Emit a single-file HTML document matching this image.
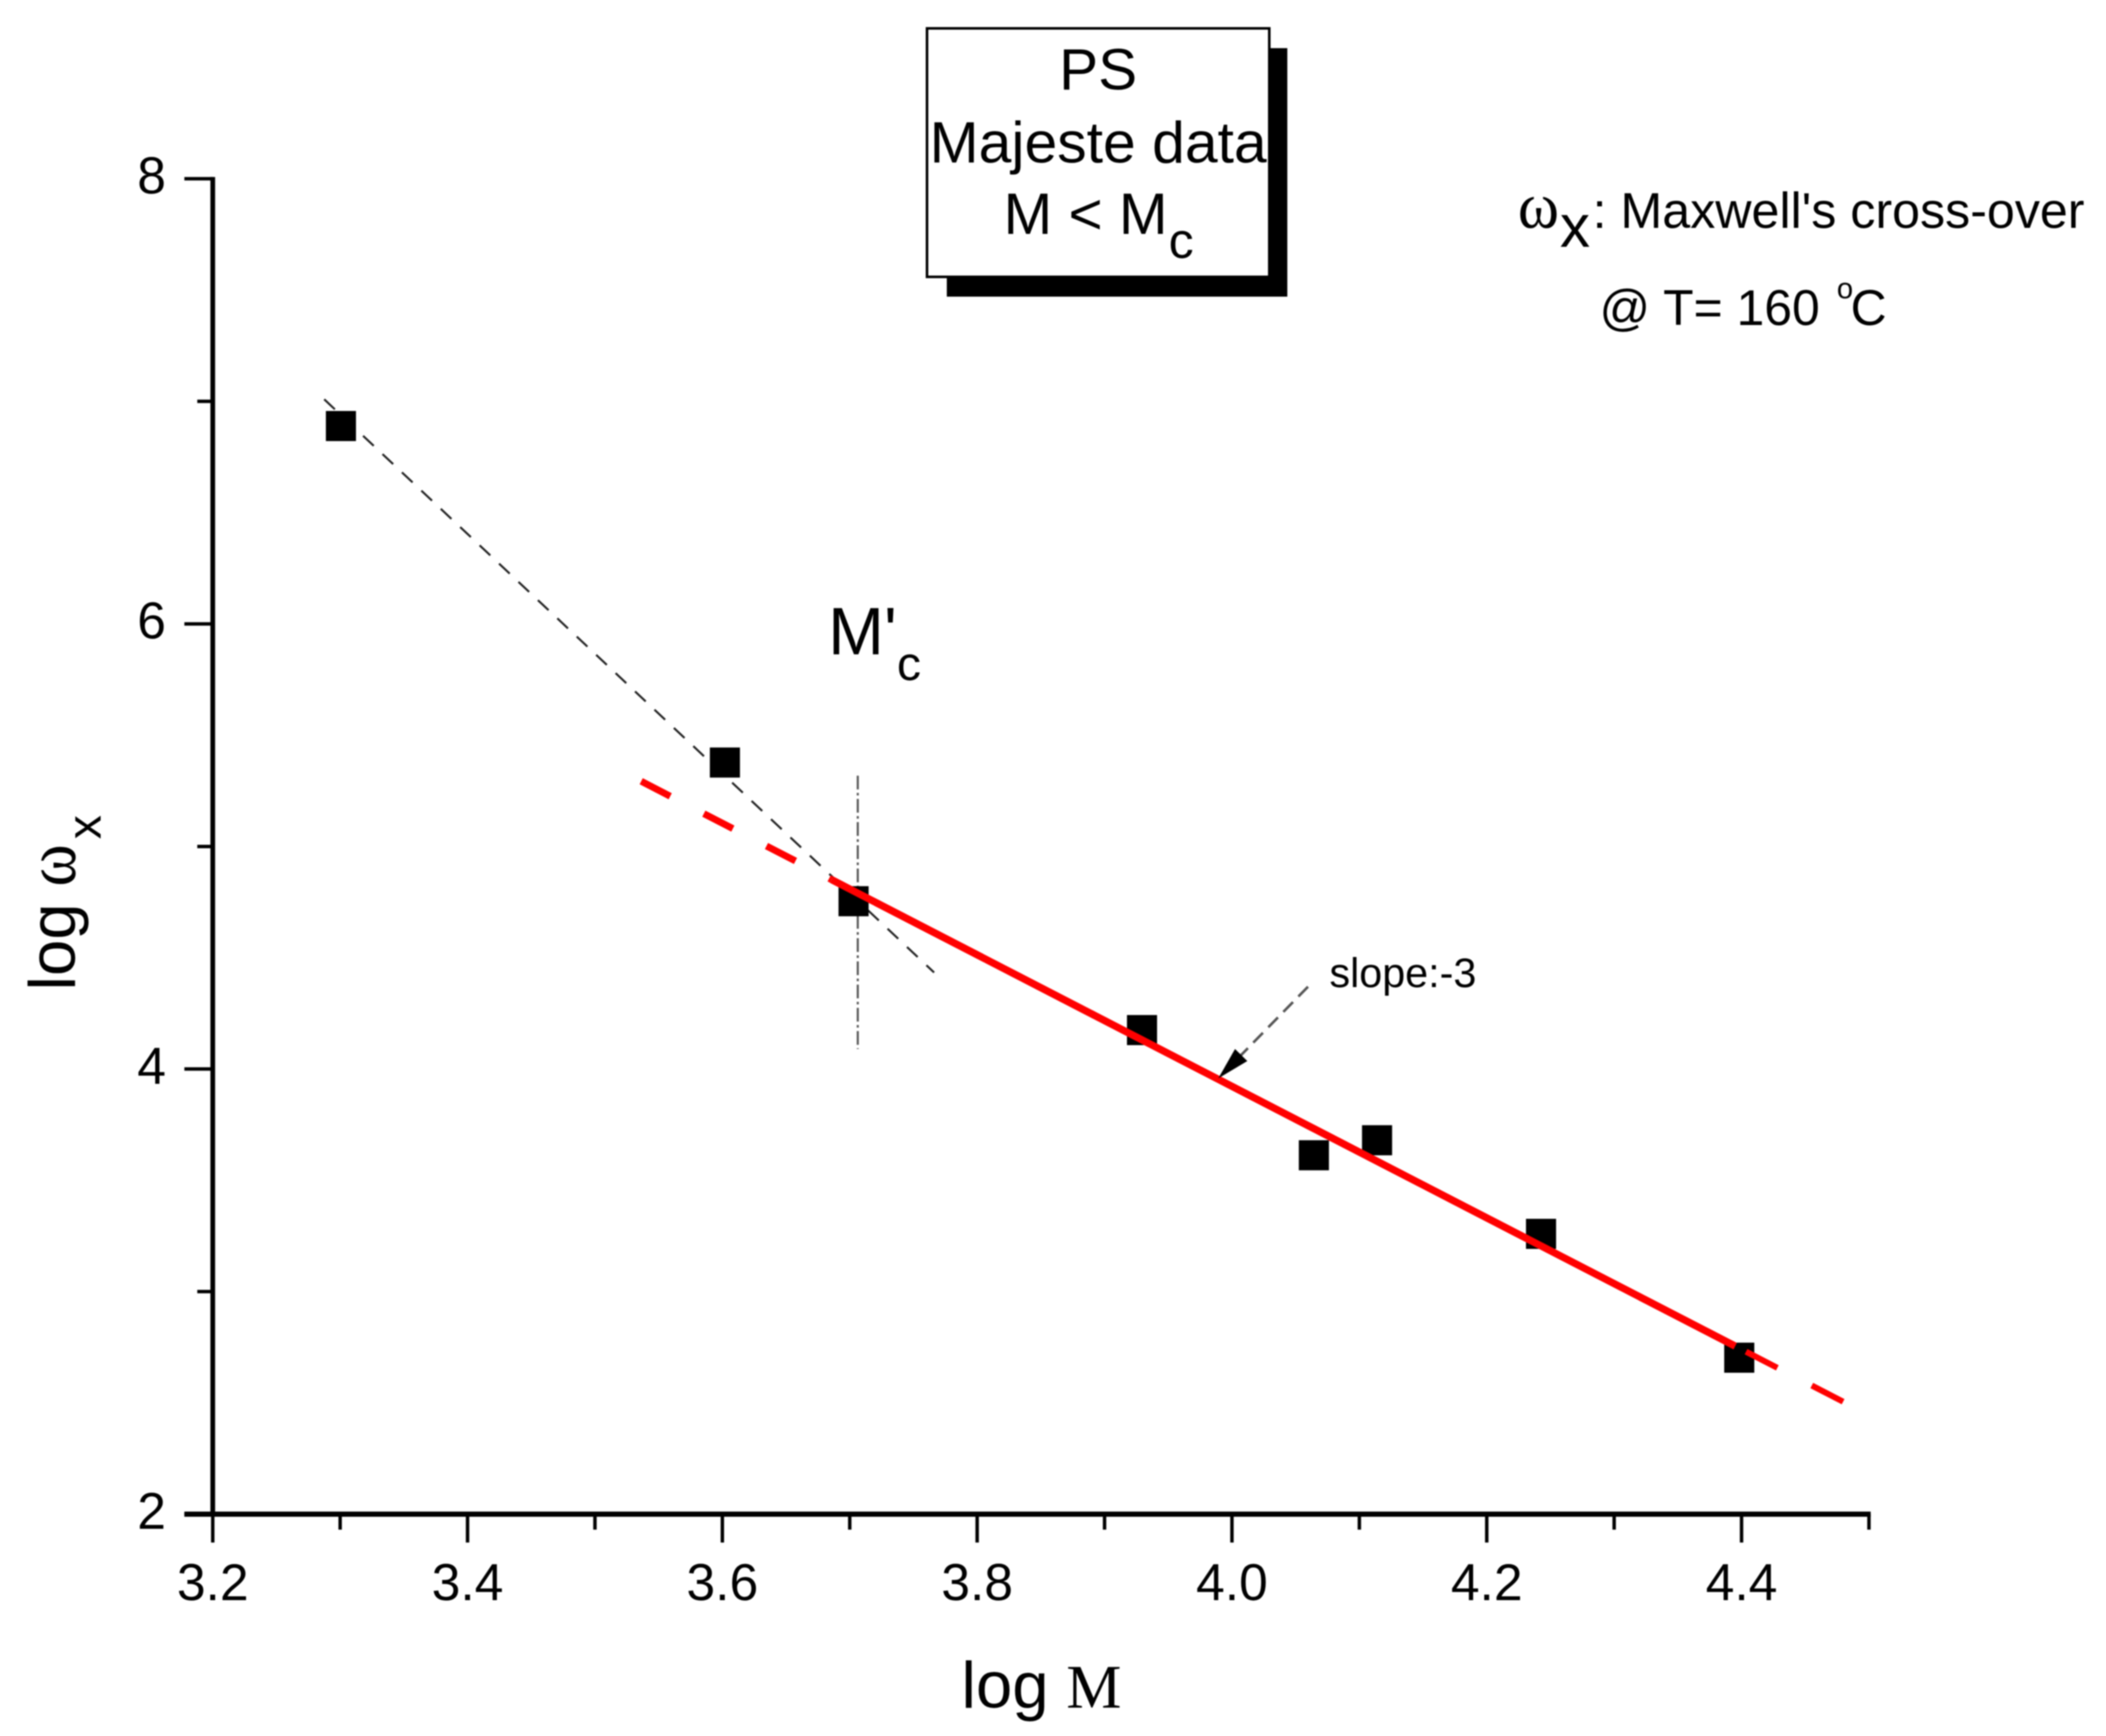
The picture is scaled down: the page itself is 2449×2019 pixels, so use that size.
<!DOCTYPE html>
<html>
<head>
<meta charset="utf-8">
<title>log omega x versus log M</title>
<style>
html,body{margin:0;padding:0;background:#fff;}
svg{display:block;filter:blur(0.7px);}
text{font-family:"Liberation Sans",sans-serif;fill:#000;}
.serif{font-family:"Liberation Serif",serif;}
</style>
</head>
<body>
<svg id="chart" xmlns="http://www.w3.org/2000/svg" width="2449" height="2019" viewBox="0 0 2449 2019">
  <rect x="0" y="0" width="2449" height="2019" fill="#fff"/>
  <g id="plot"></g>

  <g>
    <rect x="1101" y="56" width="396" height="289" fill="#000"/>
    <rect x="1078" y="33" width="398" height="289" fill="#fff" stroke="#000" stroke-width="3"/>
    <text x="1277" y="104" font-size="68" text-anchor="middle">PS</text>
    <text x="1081" y="189" font-size="68" textLength="392" lengthAdjust="spacingAndGlyphs">Majeste data</text>
    <text x="1167" y="272" font-size="68">M &lt; M</text>
    <text x="1359" y="300" font-size="58">c</text>
  </g>

  <g>
    <text class="serif" x="1765" y="265" font-size="76" textLength="48" lengthAdjust="spacingAndGlyphs">ω</text>
    <text x="1814" y="287" font-size="70">x</text>
    <text x="1852" y="265" font-size="58" textLength="572" lengthAdjust="spacingAndGlyphs">: Maxwell's cross-over</text>
    <text x="1860" y="378" font-size="58">@ T= 160</text>
    <text x="2136" y="347" font-size="34">o</text>
    <text x="2152" y="378" font-size="58">C</text>
  </g>

  <g>
    <text x="963" y="761" font-size="78">M'</text>
    <text x="1043" y="791" font-size="56">c</text>
  </g>

  <text x="1546" y="1148" font-size="48">slope:-3</text>

  <g>
    <text x="1118" y="1986" font-size="76">log</text>
    <text class="serif" x="1240" y="1986" font-size="72">M</text>
  </g>
  <g>
    <text transform="translate(87,1152) rotate(-90)" font-size="76">log</text>
    <text class="serif" transform="translate(87,1031) rotate(-90)" font-size="84" textLength="49" lengthAdjust="spacingAndGlyphs">ω</text>
    <text transform="translate(117,976) rotate(-90)" font-size="56">x</text>
  </g>
</svg>
<script>
const xMajorTicks = [3.2, 3.4, 3.6, 3.8, 4.0, 4.2, 4.4];
const xMinorTicks = [3.3, 3.5, 3.7, 3.9, 4.1, 4.3, 4.5];
const xTickLabels = ["3.2", "3.4", "3.6", "3.8", "4.0", "4.2", "4.4"];
const yMajorTicks = [2, 4, 6, 8];
const yMinorTicks = [3, 5, 7];
const yTickLabels = ["2", "4", "6", "8"];
const logM = [3.3006, 3.602, 3.703, 3.9294, 4.0643, 4.1139, 4.2426, 4.3982];
const logOmega = [6.889, 5.377, 4.754, 4.175, 3.6125, 3.68, 3.2594, 2.703];
const fitLowerDashedX = [3.5363, 3.6857];
const fitLowerDashedY = [5.293, 4.851];
const fitSolidX = [3.6857, 4.395];
const fitSolidY = [4.851, 2.755];
const fitUpperDashedX = [4.4035, 4.4822];
const fitUpperDashedY = [2.73, 2.498];
const steepGuideX = [3.2875, 3.7662];
const steepGuideY = [7.009, 4.434];
const crossoverX = [3.7063, 3.7063];
const crossoverY = [5.318, 4.09];
const arrowX = [4.0597, 3.9893];
const arrowY = [4.37, 3.958];

const svgNS = "http://www.w3.org/2000/svg";
const plot = document.getElementById("plot");
function xScale(v) { return 247.4 + (v - 3.2) * 1481.5; }
function yScale(v) { return 1761 - (v - 2) * 258.85; }
function seg(x1, y1, x2, y2, stroke, width, dash) {
  const el = document.createElementNS(svgNS, "line");
  el.setAttribute("x1", x1);
  el.setAttribute("y1", y1);
  el.setAttribute("x2", x2);
  el.setAttribute("y2", y2);
  el.setAttribute("stroke", stroke);
  el.setAttribute("stroke-width", width);
  if (dash) el.setAttribute("stroke-dasharray", dash);
  plot.appendChild(el);
  return el;
}
function dataSeg(xs, ys, stroke, width, dash) {
  return seg(xScale(xs[0]), yScale(ys[0]), xScale(xs[1]), yScale(ys[1]), stroke, width, dash);
}
function label(x, y, anchor, str) {
  const el = document.createElementNS(svgNS, "text");
  el.setAttribute("x", x);
  el.setAttribute("y", y);
  el.setAttribute("text-anchor", anchor);
  el.setAttribute("font-size", "60");
  el.textContent = str;
  plot.appendChild(el);
  return el;
}

/* guide lines sit below the markers */
const crossover = dataSeg(crossoverX, crossoverY, "#555", 2.4, "16 4 3 4");


const steep = dataSeg(steepGuideX, steepGuideY, "#222", 2.4, "17 14");



/* data markers */
logM.forEach(function (m, i) {
  const r = document.createElementNS(svgNS, "rect");
  r.setAttribute("x", xScale(m) - 17.5);
  r.setAttribute("y", yScale(logOmega[i]) - 17.5);
  r.setAttribute("width", 35);
  r.setAttribute("height", 35);
  r.setAttribute("fill", "#000");
  
  
  plot.appendChild(r);
});

/* red fit */
const fitLower = dataSeg(fitLowerDashedX, fitLowerDashedY, "#f00", 8, "38 44");


const fitSolid = dataSeg(fitSolidX, fitSolidY, "#f00", 8.5);


const fitUpper = dataSeg(fitUpperDashedX, fitUpperDashedY, "#f00", 7, "41 45");



/* slope arrow */
const ax0 = xScale(arrowX[0]), ay0 = yScale(arrowY[0]);
const ax1 = xScale(arrowX[1]), ay1 = yScale(arrowY[1]);
const len = Math.hypot(ax1 - ax0, ay1 - ay0);
const ux = (ax1 - ax0) / len, uy = (ay1 - ay0) / len;
const arrowShaft = seg(ax0, ay0, ax1 - ux * 30, ay1 - uy * 30, "#555", 3, "16 9");


const head = document.createElementNS(svgNS, "polygon");
const bx = ax1 - ux * 38, by = ay1 - uy * 38;
head.setAttribute("points", ax1 + "," + ay1 + " " + (bx - uy * 10) + "," + (by + ux * 10) + " " + (bx + uy * 10) + "," + (by - ux * 10));
head.setAttribute("fill", "#000");


plot.appendChild(head);

/* axes */
const yAxis = seg(xScale(3.2), yScale(8) - 2, xScale(3.2), yScale(2) + 3, "#000", 5.5);


const xAxis = seg(xScale(3.2) - 33, yScale(2), xScale(4.5) + 2, yScale(2), "#000", 6);



xMajorTicks.forEach(function (v, i) {
  const t = seg(xScale(v), yScale(2), xScale(v), yScale(2) + 33, "#000", 4);
  
  
  const l = label(xScale(v), 1861, "middle", xTickLabels[i]);
  
  
});
xMinorTicks.forEach(function (v) {
  const t = seg(xScale(v), yScale(2), xScale(v), yScale(2) + 18, "#000", 4);
  
  
});
yMajorTicks.forEach(function (v, i) {
  const t = seg(xScale(3.2) - 33, yScale(v), xScale(3.2), yScale(v), "#000", 4);
  
  
  const l = label(193, yScale(v) + 17, "end", yTickLabels[i]);
  
  
});
yMinorTicks.forEach(function (v) {
  const t = seg(xScale(3.2) - 18, yScale(v), xScale(3.2), yScale(v), "#000", 4);
  
  
});
</script>
</body>
</html>
